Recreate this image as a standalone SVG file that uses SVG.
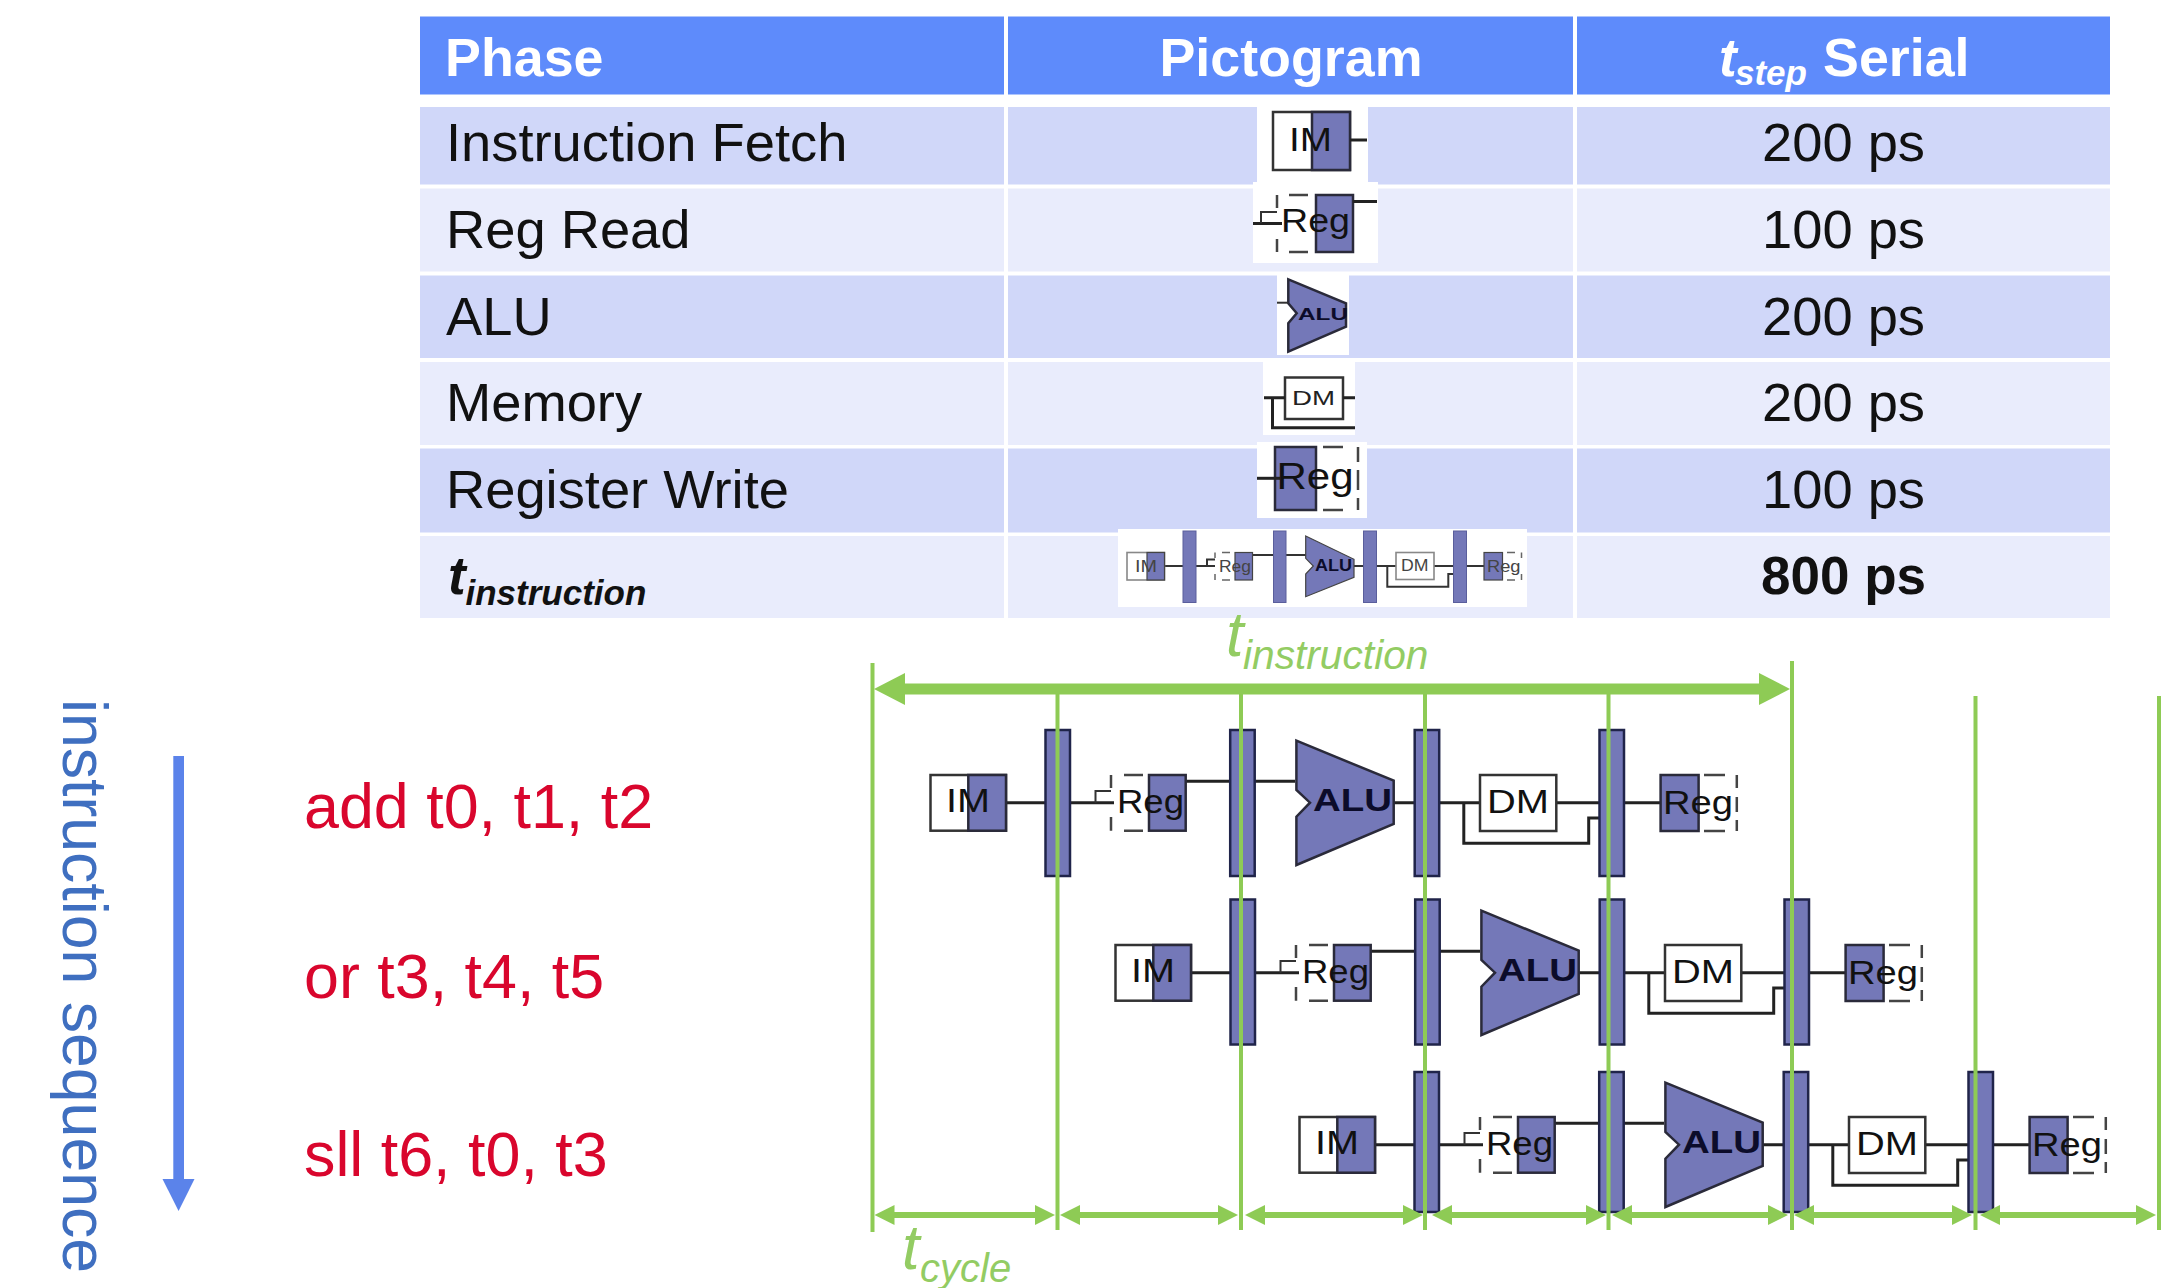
<svg xmlns="http://www.w3.org/2000/svg" width="2179" height="1288" viewBox="0 0 2179 1288">
<style>
text{font-family:"Liberation Sans",Arial,sans-serif}
.head{fill:#5e8bfb}.dk{fill:#d0d7f9}.lt{fill:#e9ecfc}.wh{fill:#fff}
.hd{font-size:53.8px;font-weight:700;fill:#fff}
.cell{font-size:54.3px;fill:#111}
.mid{text-anchor:middle}
.bold{font-weight:700;font-size:53px}
.bi{font-weight:700;font-style:italic;font-size:53px}
.ins{font-size:62.8px;fill:#d9062d}
.seq{font-size:62.6px;fill:#3f6fc0}
.gt{font-style:italic;fill:#93cc63}
.bar{fill:#7478b8;stroke:#20244a;stroke-width:2.5}
.pf{fill:#7478b8;stroke:#2a2a3a;stroke-width:2.5}
.box{fill:#fff;stroke:#333;stroke-width:2.5}
.dash{fill:none;stroke:#444;stroke-width:2.5}
.lb{font-size:33px;fill:#111}
.lbs{font-size:20px;fill:#222}
.lbl{font-size:36px;fill:#111}
.alu{font-size:32px;font-weight:700;fill:#0c0c2a}
.wire{fill:none;stroke:#222;stroke-width:3}
.thin{fill:none;stroke:#333;stroke-width:2}
.mbar{fill:#7478b8;stroke:#5a5e9c;stroke-width:1}
.mf{fill:#7478b8;stroke:#444;stroke-width:1.2}
.mbox{fill:#fff;stroke:#888;stroke-width:1.6}
.mw{fill:none;stroke:#333;stroke-width:2}
.md{fill:none;stroke:#666;stroke-width:1.5}
.ml{font-size:16px;fill:#444}
.ma{font-size:17px;font-weight:700;fill:#0c0c2a}
.gl{stroke:#8ecb55;stroke-width:4;fill:none}
.ga{stroke:#8ecb55;stroke-width:6;fill:none;marker-start:url(#ah);marker-end:url(#ah)}
.gb{stroke:#8ecb55;stroke-width:11;fill:none;marker-start:url(#ab);marker-end:url(#ab)}
</style>
<defs>
<marker id="ah" viewBox="0 -10 20 20" refX="10" refY="0" markerWidth="20" markerHeight="20" markerUnits="userSpaceOnUse" orient="auto-start-reverse"><polygon points="0,-10 20,0 0,10" fill="#8ecb55"/></marker>
<marker id="ab" viewBox="0 -16 31 32" refX="15" refY="0" markerWidth="31" markerHeight="32" markerUnits="userSpaceOnUse" orient="auto-start-reverse"><polygon points="0,-16 31,0 0,16" fill="#8ecb55"/></marker>
</defs>
<rect width="2179" height="1288" fill="#fff"/>

<g id="table">
<rect class="head" x="420" y="16.5" width="1690" height="78"/>
<rect class="dk" x="420" y="107" width="1690" height="77.5"/>
<rect class="lt" x="420" y="188.5" width="1690" height="83"/>
<rect class="dk" x="420" y="275.5" width="1690" height="82.5"/>
<rect class="lt" x="420" y="362" width="1690" height="83"/>
<rect class="dk" x="420" y="448.5" width="1690" height="84"/>
<rect class="lt" x="420" y="536" width="1690" height="82"/>
<rect class="wh" x="1004" y="16" width="4" height="603"/>
<rect class="wh" x="1573" y="16" width="4" height="603"/>
<text class="hd" x="445" y="75.5">Phase</text>
<text class="hd mid" x="1291" y="75.5">Pictogram</text>
<text class="hd" x="1719"><tspan class="bi" y="75.5">t</tspan><tspan class="bi" x="1735" y="85" style="font-size:35px">step</tspan><tspan x="1823" y="75.5">Serial</tspan></text>
<text class="cell" x="446" y="161">Instruction Fetch</text>
<text class="cell" x="446" y="248">Reg Read</text>
<text class="cell" x="446" y="335">ALU</text>
<text class="cell" x="446" y="421">Memory</text>
<text class="cell" x="446" y="508">Register Write</text>
<text class="cell" x="448"><tspan class="bi" y="594">t</tspan><tspan class="bi" x="465.5" y="605" style="font-size:35px">instruction</tspan></text>
<text class="cell mid" x="1843.5" y="161">200 ps</text>
<text class="cell mid" x="1843.5" y="248">100 ps</text>
<text class="cell mid" x="1843.5" y="335">200 ps</text>
<text class="cell mid" x="1843.5" y="421">200 ps</text>
<text class="cell mid" x="1843.5" y="508">100 ps</text>
<text class="cell mid bold" x="1843.5" y="594">800 ps</text>
</g>

<g id="picto-im">
<rect class="wh" x="1257" y="96" width="111" height="86"/>
<rect class="box" x="1273" y="112" width="77" height="58"/>
<rect class="pf" x="1312" y="112" width="38" height="58"/>
<path class="wire" d="M1350 140H1367"/>
<text class="lb" x="1289" y="151" textLength="43" lengthAdjust="spacingAndGlyphs">IM</text>
</g>
<g id="picto-reg-read">
<rect class="wh" x="1253" y="182" width="125" height="81"/>
<rect class="pf" x="1316" y="195" width="37" height="57"/>
<path class="dash" d="M1277 195V208M1277 239V252M1289 195H1308M1289 252H1308"/>
<path class="wire" d="M1353 201.5H1377M1253 223.5H1282"/>
<path class="thin" d="M1261 223V212H1277"/>
<text class="lb" x="1281" y="232" textLength="69" lengthAdjust="spacingAndGlyphs">Reg</text>
</g>
<g id="picto-alu">
<rect class="wh" x="1277" y="272" width="72" height="83"/>
<polygon class="pf" points="1288.3,279.3 1346,303.3 1346,326.7 1288.3,351.7 1288.3,323.3 1296.7,313.3 1288.3,303.3"/>
<path class="thin" d="M1277 302.7H1288"/>
<text class="ma" x="1298" y="319.5" textLength="50" lengthAdjust="spacingAndGlyphs">ALU</text>
</g>
<g id="picto-memory">
<rect class="wh" x="1263" y="362" width="92" height="73"/>
<rect class="box" x="1285" y="377.5" width="58" height="41.5"/>
<path class="wire" d="M1264 397.7H1285M1343 397.7H1355M1272.5 397.7V427.7H1355"/>
<text class="lbs" x="1292" y="404.5" textLength="43" lengthAdjust="spacingAndGlyphs">DM</text>
</g>
<g id="picto-reg-write">
<rect class="wh" x="1257" y="442" width="110" height="76"/>
<rect class="pf" x="1275" y="447" width="41" height="63"/>
<path class="dash" d="M1323 447H1343M1358 447V462M1358 470V490M1358 498V510M1323 510H1343"/>
<path class="wire" d="M1257 478.3H1280"/>
<text class="lbl" x="1276.5" y="489" textLength="77" lengthAdjust="spacingAndGlyphs">Reg</text>
</g>
<g id="picto-instruction">
<rect class="wh" x="1118" y="529" width="409" height="78"/>
<path class="mw" d="M1164 566H1183M1196 566H1215M1207 566V559.5H1215M1252.7 555H1273M1286 555H1306M1354 566H1363M1376 566H1396M1434 566H1453M1387.3 566V586.7H1448.3V574H1453M1467 566H1484"/>
<rect class="mbox" x="1127" y="552.5" width="37.5" height="27.5"/>
<rect class="mf" x="1147" y="552.5" width="17.5" height="27.5"/>
<text class="ml" x="1135" y="571.5" textLength="22" lengthAdjust="spacingAndGlyphs">IM</text>
<rect class="mbar" x="1183" y="531" width="13" height="71.5"/>
<rect class="mf" x="1235" y="552.5" width="17.5" height="27.5"/>
<path class="md" d="M1215 552.5V558M1215 574V580M1222 552.5H1230M1222 580H1230"/>
<text class="ml" x="1219" y="571.5" textLength="32" lengthAdjust="spacingAndGlyphs">Reg</text>
<rect class="mbar" x="1273.5" y="531" width="12.5" height="71.5"/>
<polygon class="mf" points="1305.7,536 1354,559.3 1354,577.3 1305.7,596.7 1305.7,574 1313.3,566 1305.7,558.3"/>
<text class="ma" x="1315" y="571" textLength="37" lengthAdjust="spacingAndGlyphs">ALU</text>
<rect class="mbar" x="1363.5" y="531" width="13" height="71.5"/>
<rect class="mbox" x="1396" y="552.5" width="38" height="27"/>
<text class="ml" x="1401" y="571" textLength="27.5" lengthAdjust="spacingAndGlyphs">DM</text>
<rect class="mbar" x="1453.5" y="531" width="13" height="71.5"/>
<rect class="mf" x="1484" y="552.5" width="18.5" height="27.5"/>
<path class="md" d="M1507 552.5H1515M1521.5 552.5V558M1521.5 574V580M1507 580H1515"/>
<text class="ml" x="1487" y="571.5" textLength="33.5" lengthAdjust="spacingAndGlyphs">Reg</text>
</g>

<g id="seq-label">
<text class="seq" transform="translate(63,699) rotate(90)">instruction sequence</text>
</g>
<g id="seq-arrow">
<rect x="173.3" y="756" width="10.7" height="424" fill="#5b83ea"/>
<polygon points="162.5,1179 194.5,1179 178.6,1211" fill="#5b83ea"/>
</g>
<g id="instructions">
<text class="ins" x="304" y="828">add t0, t1, t2</text>
<text class="ins" x="304" y="997.5">or t3, t4, t5</text>
<text class="ins" x="304" y="1176">sll t6, t0, t3</text>
</g>

<g id="connectors">
<g id="wires-1"><path class="wire" d="M1006 802.7H1045.5M1070 802.7H1114M1185.7 781.3H1230M1255 781.3H1295M1393.7 802.7H1414.7M1439 802.7H1480M1556.3 802.7H1599.5M1623.5 802.7H1661M1463.8 802.7V843.3H1588.7V818H1599.5"/><path class="thin" d="M1095.5 802.7V791H1111"/></g>
<g id="wires-2" transform="translate(185,170)"><path class="wire" d="M1006 802.7H1045.5M1070 802.7H1114M1185.7 781.3H1230M1255 781.3H1295M1393.7 802.7H1414.7M1439 802.7H1480M1556.3 802.7H1599.5M1623.5 802.7H1661M1463.8 802.7V843.3H1588.7V818H1599.5"/><path class="thin" d="M1095.5 802.7V791H1111"/></g>
<g id="wires-3" transform="translate(369,342)"><path class="wire" d="M1006 802.7H1045.5M1070 802.7H1114M1185.7 781.3H1230M1255 781.3H1295M1393.7 802.7H1414.7M1439 802.7H1480M1556.3 802.7H1599.5M1623.5 802.7H1661M1463.8 802.7V843.3H1588.7V818H1599.5"/><path class="thin" d="M1095.5 802.7V791H1111"/></g>
</g>

<g id="row-1">
<g id="im-1"><rect class="box" x="930.5" y="775" width="75.5" height="55.7"/><rect class="pf" x="968.3" y="775" width="37.7" height="55.7"/><text class="lb" x="946" y="812" textLength="44" lengthAdjust="spacingAndGlyphs">IM</text></g>
<g id="bar-1a"><rect class="bar" x="1045.5" y="730" width="24.5" height="146"/></g>
<g id="reg-1"><rect class="pf" x="1149" y="775" width="36.7" height="55.7"/><path class="dash" d="M1111 775V788M1111 817V830.7M1124 775H1143M1124 830.7H1143"/><text class="lb" x="1117" y="813" textLength="67" lengthAdjust="spacingAndGlyphs">Reg</text></g>
<g id="bar-1b"><rect class="bar" x="1230.2" y="730" width="24.5" height="146"/></g>
<g id="alu-1"><polygon class="pf" points="1296.4,740.7 1393.7,780.7 1393.7,824 1296.4,865 1296.4,816.7 1310,802.7 1296.4,790"/><text class="alu" x="1313" y="811" textLength="79" lengthAdjust="spacingAndGlyphs">ALU</text></g>
<g id="bar-1c"><rect class="bar" x="1414.7" y="730" width="24.5" height="146"/></g>
<g id="dm-1"><rect class="box" x="1480" y="775" width="76.3" height="56"/><text class="lb" x="1487" y="812.5" textLength="62" lengthAdjust="spacingAndGlyphs">DM</text></g>
<g id="bar-1d"><rect class="bar" x="1599.5" y="730" width="24.5" height="146"/></g>
<g id="regw-1"><rect class="pf" x="1660.6" y="775" width="38" height="56"/><path class="dash" d="M1704 775H1725M1736.8 775V788M1736.8 797V812M1736.8 820V831M1704 831H1725"/><text class="lb" x="1663" y="813.5" textLength="70" lengthAdjust="spacingAndGlyphs">Reg</text></g>
</g>

<g id="row-2" transform="translate(185,170)">
<g id="im-2"><rect class="box" x="930.5" y="775" width="75.5" height="55.7"/><rect class="pf" x="968.3" y="775" width="37.7" height="55.7"/><text class="lb" x="946" y="812" textLength="44" lengthAdjust="spacingAndGlyphs">IM</text></g>
<g id="bar-2a"><rect class="bar" x="1045.5" y="729.5" width="24.5" height="145"/></g>
<g id="reg-2"><rect class="pf" x="1149" y="775" width="36.7" height="55.7"/><path class="dash" d="M1111 775V788M1111 817V830.7M1124 775H1143M1124 830.7H1143"/><text class="lb" x="1117" y="813" textLength="67" lengthAdjust="spacingAndGlyphs">Reg</text></g>
<g id="bar-2b"><rect class="bar" x="1230.2" y="729.5" width="24.5" height="145"/></g>
<g id="alu-2"><polygon class="pf" points="1296.4,740.7 1393.7,780.7 1393.7,824 1296.4,865 1296.4,816.7 1310,802.7 1296.4,790"/><text class="alu" x="1313" y="811" textLength="79" lengthAdjust="spacingAndGlyphs">ALU</text></g>
<g id="bar-2c"><rect class="bar" x="1414.7" y="729.5" width="24.5" height="145"/></g>
<g id="dm-2"><rect class="box" x="1480" y="775" width="76.3" height="56"/><text class="lb" x="1487" y="812.5" textLength="62" lengthAdjust="spacingAndGlyphs">DM</text></g>
<g id="bar-2d"><rect class="bar" x="1599.5" y="729.5" width="24.5" height="145"/></g>
<g id="regw-2"><rect class="pf" x="1660.6" y="775" width="38" height="56"/><path class="dash" d="M1704 775H1725M1736.8 775V788M1736.8 797V812M1736.8 820V831M1704 831H1725"/><text class="lb" x="1663" y="813.5" textLength="70" lengthAdjust="spacingAndGlyphs">Reg</text></g>
</g>

<g id="row-3" transform="translate(369,342)">
<g id="im-3"><rect class="box" x="930.5" y="775" width="75.5" height="55.7"/><rect class="pf" x="968.3" y="775" width="37.7" height="55.7"/><text class="lb" x="946" y="812" textLength="44" lengthAdjust="spacingAndGlyphs">IM</text></g>
<g id="bar-3a"><rect class="bar" x="1045.5" y="730" width="24.5" height="140"/></g>
<g id="reg-3"><rect class="pf" x="1149" y="775" width="36.7" height="55.7"/><path class="dash" d="M1111 775V788M1111 817V830.7M1124 775H1143M1124 830.7H1143"/><text class="lb" x="1117" y="813" textLength="67" lengthAdjust="spacingAndGlyphs">Reg</text></g>
<g id="bar-3b"><rect class="bar" x="1230.2" y="730" width="24.5" height="140"/></g>
<g id="alu-3"><polygon class="pf" points="1296.4,740.7 1393.7,780.7 1393.7,824 1296.4,865 1296.4,816.7 1310,802.7 1296.4,790"/><text class="alu" x="1313" y="811" textLength="79" lengthAdjust="spacingAndGlyphs">ALU</text></g>
<g id="bar-3c"><rect class="bar" x="1414.7" y="730" width="24.5" height="140"/></g>
<g id="dm-3"><rect class="box" x="1480" y="775" width="76.3" height="56"/><text class="lb" x="1487" y="812.5" textLength="62" lengthAdjust="spacingAndGlyphs">DM</text></g>
<g id="bar-3d"><rect class="bar" x="1599.5" y="730" width="24.5" height="140"/></g>
<g id="regw-3"><rect class="pf" x="1660.6" y="775" width="38" height="56"/><path class="dash" d="M1704 775H1725M1736.8 775V788M1736.8 797V812M1736.8 820V831M1704 831H1725"/><text class="lb" x="1663" y="813.5" textLength="70" lengthAdjust="spacingAndGlyphs">Reg</text></g>
</g>

<g id="timing-connectors">
<path class="gl" d="M872.5 663V1232M1057.5 689V1230M1241 689V1230M1425 689V1230M1608.5 689V1230M1792 661V1230M1975.5 696V1230M2159 696V1230"/>
<line class="gb" x1="890" y1="689" x2="1774" y2="689"/>
<line class="ga" x1="884.5" y1="1215" x2="1045" y2="1215"/>
<line class="ga" x1="1070" y1="1215" x2="1228" y2="1215"/>
<line class="ga" x1="1255" y1="1215" x2="1413" y2="1215"/>
<line class="ga" x1="1442" y1="1215" x2="1596" y2="1215"/>
<line class="ga" x1="1622" y1="1215" x2="1778" y2="1215"/>
<line class="ga" x1="1804" y1="1215" x2="1962" y2="1215"/>
<line class="ga" x1="1990" y1="1215" x2="2146" y2="1215"/>
</g>

<g id="timing-labels">
<text class="gt" x="1226" font-size="63"><tspan y="656">t</tspan><tspan x="1243" y="669" font-size="40.7">instruction</tspan></text>
<text class="gt" x="902" font-size="63"><tspan y="1269">t</tspan><tspan x="920" y="1281.5" font-size="40">cycle</tspan></text>
</g>
</svg>
